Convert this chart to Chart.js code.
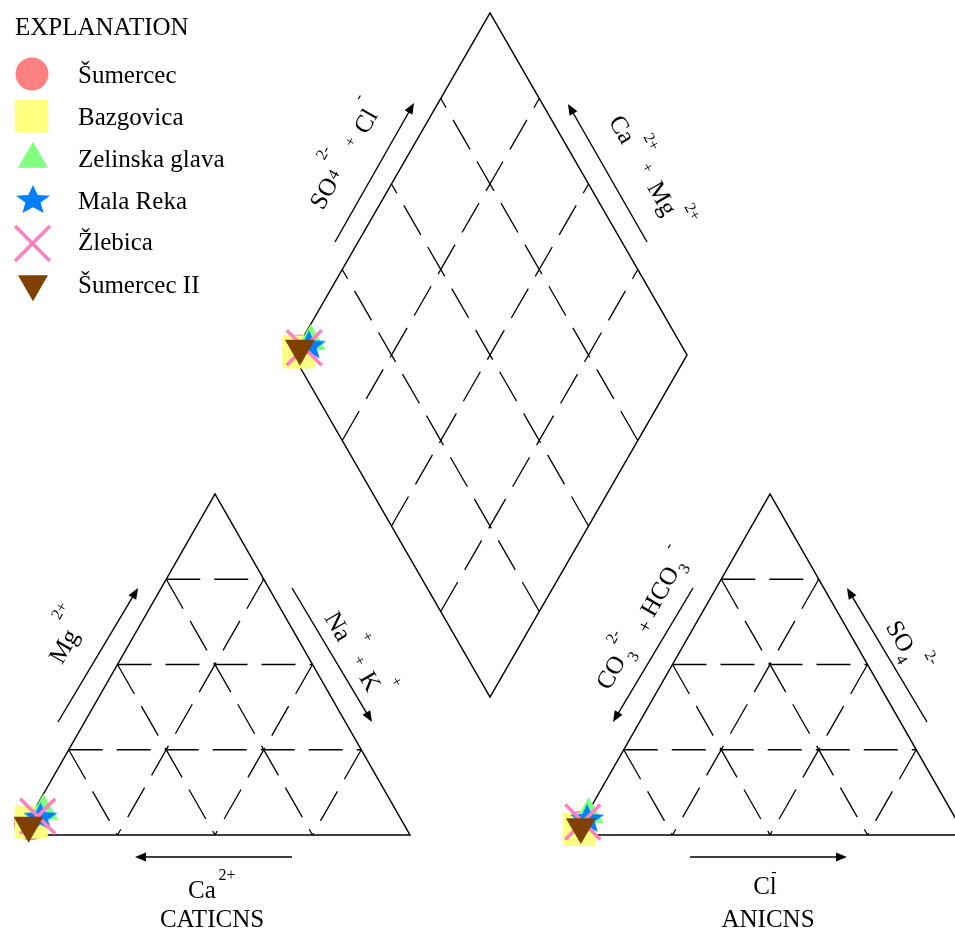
<!DOCTYPE html>
<html><head><meta charset="utf-8">
<script src="https://cdn.jsdelivr.net/npm/chart.js@4.4.1/dist/chart.umd.min.js"></script>
<style>html,body{margin:0;padding:0;background:#fff;}canvas{display:block;}</style>
</head><body>
<canvas id="c" width="955" height="932" style="width:955px;height:932px"></canvas>
<script>
// ---------------- DATA (percent of meq) ----------------
const samples   = ['Šumercec', 'Bazgovica', 'Zelinska glava', 'Mala Reka', 'Žlebica', 'Šumercec II'];
const caPct     = [95.7, 95.2, 90.5, 92.0, 92.7, 96.4];
const mgPct     = [3.3, 3.8, 7.0, 5.5, 5.5, 2.8];
const naKPct    = [1.0, 1.0, 2.5, 2.5, 1.8, 0.8];
const hco3Pct   = [97.8, 98.1, 93.5, 94.4, 96.1, 97.3];
const so4Pct    = [2.1, 1.6, 6.0, 5.0, 3.8, 2.4];
const clPct     = [0.1, 0.3, 0.5, 0.6, 0.1, 0.3];
const gridPct   = [25, 50, 75];

// ---------------- STYLE / LAYOUT ----------------
const colors  = ['#FF8080', '#FFFF80', '#80FF80', '#0080FF', '#FF80C0', '#804000'];
const FONT = '"Liberation Serif", "Times New Roman", serif';
const GRID_DASH = [34, 14];
const GEO = {
  left:  {x0: 20,  y0: 835, w: 390, h: 341},
  right: {x0: 575, y0: 835, w: 390, h: 341},
  dia:   {cx: 490, cy: 355, hw: 197, hh: 342}
};

function makeStar(color) {
  const c = document.createElement('canvas'); c.width = 36; c.height = 30;
  const g = c.getContext('2d'); g.fillStyle = color; g.beginPath();
  const R = 18, r = 8.0, cx = 18, sy = 28 / (R * 1.809), cy = 1 + R * sy;
  for (let k = 0; k < 10; k++) {
    const a = -Math.PI / 2 + k * Math.PI / 5, rr = (k % 2) ? r : R;
    g.lineTo(cx + rr * Math.cos(a), cy + rr * Math.sin(a) * sy);
  }
  g.closePath(); g.fill(); return c;
}
const starImg = makeStar(colors[3]);
const markers = [
  {pointStyle: 'circle',   radius: 16.5, rotation: 0,   borderWidth: 0},
  {pointStyle: 'rect',     radius: 23.3, rotation: 0,   borderWidth: 0},
  {pointStyle: 'triangle', radius: 17.3, rotation: 0,   borderWidth: 0},
  {pointStyle: starImg,    radius: 17,   rotation: 0,   borderWidth: 0},
  {pointStyle: 'crossRot', radius: 24.7, rotation: 0,   borderWidth: 3.5},
  {pointStyle: 'triangle', radius: 17.3, rotation: 180, borderWidth: 0}
];
const legendPos = [[32, 74, 83], [31.5, 116, 125], [33, 159, 167], [33, 199, 209], [32.5, 243.5, 250], [33, 284, 293]];

// ---------------- GEOMETRY ----------------
function triXY(t, top, right) { return {x: t.x0 + t.w * (right + top / 2), y: t.y0 - t.h * top}; }
function diaXY(S, N) {
  const d = GEO.dia, lx = d.cx - d.hw;
  return {x: lx + d.hw * (S + N), y: d.cy - d.hh * S + d.hh * N};
}

const datasets = [];
function addLine(pts, dashed) {
  const ds = {type: 'scatter', data: pts, showLine: true, pointRadius: 0, borderColor: '#000',
              borderWidth: dashed ? 1.3 : 1.5, fill: false, order: 20, tension: 0, clip: false};
  if (dashed) { ds.borderDash = GRID_DASH; ds.borderDashOffset = 0; }
  datasets.push(ds);
}
// triangle grids + frames
[GEO.left, GEO.right].forEach(t => {
  gridPct.forEach(p => {
    const f = p / 100;
    addLine([triXY(t, f, 0), triXY(t, f, 1 - f)], true);      // horizontal, left -> right
    addLine([triXY(t, 1 - f, f), triXY(t, 0, f)], true);      // from right side down to base
    addLine([triXY(t, 1 - f, 0), triXY(t, 0, 1 - f)], true);  // from left side down to base
  });
  addLine([triXY(t, 0, 0), triXY(t, 0, 1), triXY(t, 1, 0), triXY(t, 0, 0)], false);
});
// diamond grid (drawn from the lower edges upward) + frame
gridPct.forEach(p => {
  const f = p / 100;
  addLine([diaXY(f, 1), diaXY(f, 0)], true);
  addLine([diaXY(0, f), diaXY(1, f)], true);
});
addLine([diaXY(0, 0), diaXY(1, 0), diaXY(1, 1), diaXY(0, 1), diaXY(0, 0)], false);

// sample points
samples.forEach((name, i) => {
  const cs = caPct[i] + mgPct[i] + naKPct[i], as = hco3Pct[i] + so4Pct[i] + clPct[i];
  const mg = mgPct[i] / cs, na = naKPct[i] / cs, so = so4Pct[i] / as, cl = clPct[i] / as;
  const m = markers[i];
  datasets.push({
    type: 'scatter', label: name,
    data: [triXY(GEO.left, mg, na), triXY(GEO.right, so, cl), diaXY(so + cl, na)],
    pointStyle: m.pointStyle, pointRadius: m.radius, pointRotation: m.rotation,
    pointBackgroundColor: colors[i], pointBorderColor: colors[i], pointBorderWidth: m.borderWidth,
    backgroundColor: colors[i], borderColor: colors[i], showLine: false, clip: false,
    pointHoverRadius: m.radius, order: samples.length - i
  });
});

// ---------------- ANNOTATIONS ----------------
const arrows = [
  [58, 722, 138, 588], [292, 588, 372, 722], [292, 857, 135, 857],
  [693, 588, 613, 722], [927, 722, 847, 588], [690, 857, 847, 857],
  [335, 242, 414, 103], [647, 242, 568, 104]
];
const labels = [
  ['SO', 325, 194, 25, -60], ['4', 334, 175, 16, -60], ['2-', 324, 153, 16, -60], ['+', 351, 142, 16, -60],
  ['Cl', 367, 122, 25, -60], ['-', 359, 97, 16, -60],
  ['Ca', 621, 130, 25, 60], ['2+', 651, 142, 16, 60], ['+', 647, 168, 16, 60], ['Mg', 661, 199, 25, 60], ['2+', 692, 212, 16, 60],
  ['Mg', 65, 647, 25, -60], ['2+', 60, 611, 16, -60],
  ['Na', 337, 627, 25, 60], ['+', 367, 637, 16, 60], ['+', 359, 661, 16, 60], ['K', 369, 682, 25, 60], ['+', 396, 682, 16, 60],
  ['CO', 612, 673, 25, -60], ['3', 634, 657, 16, -60], ['2-', 614, 637, 16, -60], ['+', 646, 627, 20, -60],
  ['HCO', 661, 592, 25, -60], ['3', 685, 569, 16, -60], ['-', 669, 546, 16, -60],
  ['SO', 899, 637, 25, 60], ['4', 901, 660, 16, 60], ['2-', 931, 658, 16, 60],
  ['Ca', 202, 891, 25, 0], ['2+', 227, 876, 16, 0], ['CATICNS', 212, 920, 25, 0],
  ['Cl', 765, 887, 25, 0], ['-', 774, 873, 16, 0], ['ANICNS', 768, 920, 25, 0]
];

function drawArrow(ctx, x1, y1, x2, y2) {
  const a = Math.atan2(y2 - y1, x2 - x1), L = 11, Wd = 4.5, c = Math.cos(a), s = Math.sin(a);
  ctx.save(); ctx.strokeStyle = '#000'; ctx.fillStyle = '#000'; ctx.lineWidth = 1.4;
  ctx.beginPath(); ctx.moveTo(x1, y1); ctx.lineTo(x2 - L * 0.6 * c, y2 - L * 0.6 * s); ctx.stroke();
  ctx.beginPath(); ctx.moveTo(x2, y2);
  ctx.lineTo(x2 - L * c + Wd * s, y2 - L * s - Wd * c);
  ctx.lineTo(x2 - L * c - Wd * s, y2 - L * s + Wd * c);
  ctx.closePath(); ctx.fill(); ctx.restore();
}
function drawText(ctx, s, x, y, size, rot, align, base) {
  ctx.save(); ctx.translate(x, y); ctx.rotate(rot * Math.PI / 180);
  ctx.font = size + 'px ' + FONT; ctx.textAlign = align || 'center'; ctx.textBaseline = base || 'middle';
  ctx.fillStyle = '#000'; ctx.fillText(s, 0, 0); ctx.restore();
}

const annotPlugin = {
  id: 'annot',
  afterDatasetsDraw(chart) {
    const ctx = chart.ctx, sx = chart.scales.x, sy = chart.scales.y;
    const P = (x, y) => [sx.getPixelForValue(x), sy.getPixelForValue(y)];
    arrows.forEach(a => { const p = P(a[0], a[1]), q = P(a[2], a[3]); drawArrow(ctx, p[0], p[1], q[0], q[1]); });
    labels.forEach(l => { const p = P(l[1], l[2]); drawText(ctx, l[0], p[0], p[1], l[3], l[4]); });
    // legend
    drawText(ctx, 'EXPLANATION', 15, 35, 25, 0, 'left', 'alphabetic');
    samples.forEach((name, i) => {
      const lp = legendPos[i], m = markers[i];
      ctx.save();
      ctx.fillStyle = colors[i]; ctx.strokeStyle = colors[i]; ctx.lineWidth = m.borderWidth;
      Chart.helpers.drawPoint(ctx, {pointStyle: m.pointStyle, radius: m.radius, rotation: m.rotation, borderWidth: m.borderWidth}, lp[0], lp[1]);
      ctx.restore();
      drawText(ctx, name, 78, lp[2], 25, 0, 'left', 'alphabetic');
    });
  }
};

new Chart(document.getElementById('c'), {
  type: 'scatter',
  data: {datasets},
  options: {
    responsive: false, animation: false, devicePixelRatio: 1,
    layout: {padding: 0, autoPadding: false},
    scales: {
      x: {type: 'linear', min: 0, max: 955, display: false},
      y: {type: 'linear', min: 0, max: 932, reverse: true, display: false}
    },
    plugins: {legend: {display: false}, tooltip: {enabled: false}},
    events: []
  },
  plugins: [annotPlugin]
});
</script>
</body></html>
